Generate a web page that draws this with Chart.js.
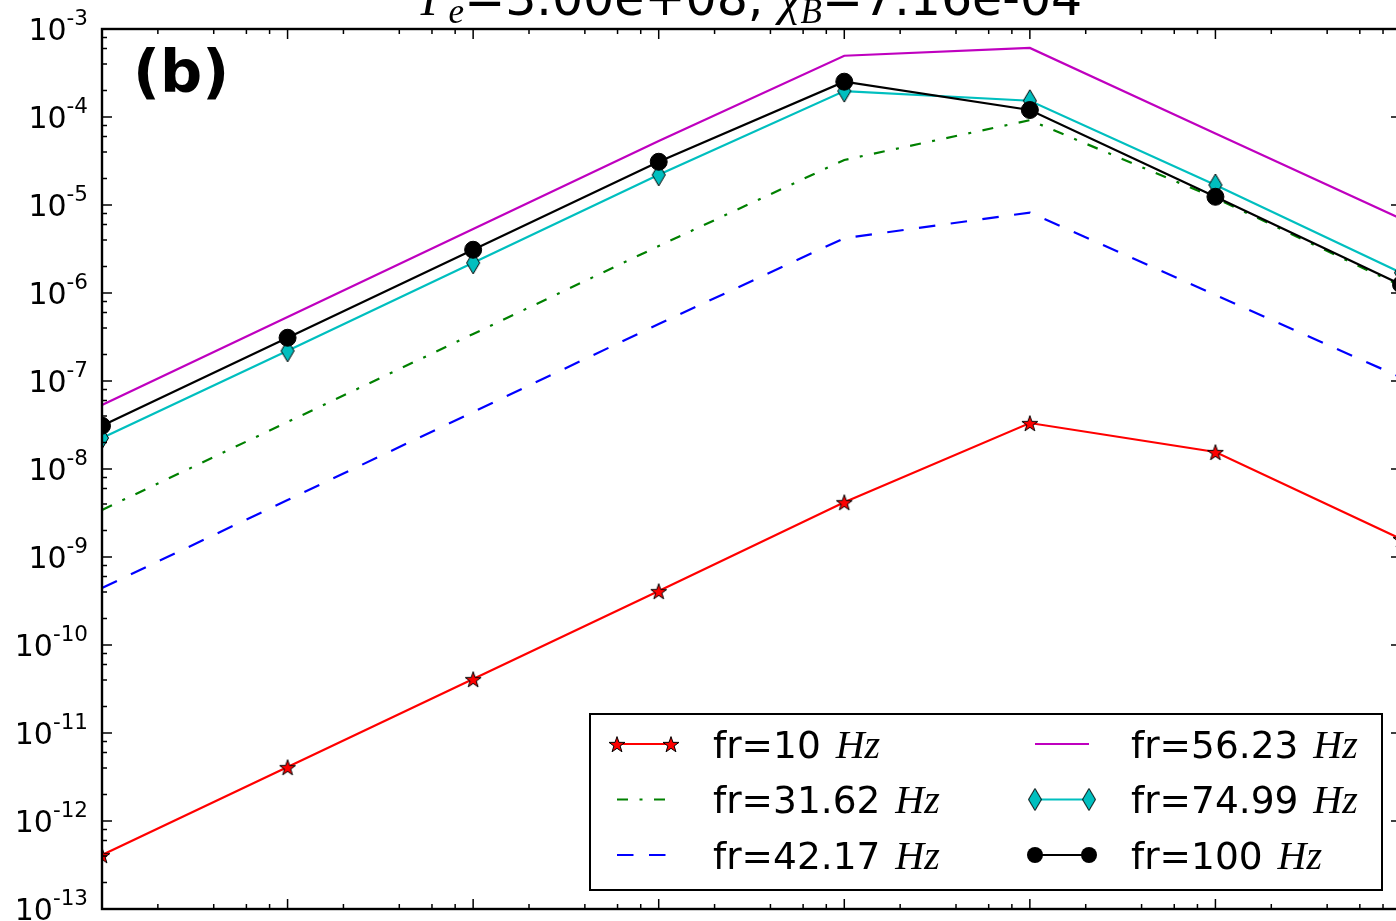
<!DOCTYPE html>
<html>
<head>
<meta charset="utf-8">
<script src="https://cdn.jsdelivr.net/npm/chart.js@4.4.1/dist/chart.umd.min.js"></script>
<style>
  html, body { margin: 0; padding: 0; overflow: hidden; background: #fff; }
  canvas { display: block; }
</style>
</head>
<body>
<canvas id="spec" width="1430" height="960"></canvas>
<script>
// x positions (log axis, one point per decade)
const xValues = [1e0, 1e1, 1e2, 1e3, 1e4, 1e5, 1e6, 1e7];

// series
const fr10  = [4.1e-13, 4.1e-12, 4.1e-11, 4.1e-10, 4.2e-9, 3.33e-8, 1.56e-8, 1.6e-9];
const fr31  = [3.42e-9, 3.42e-8, 3.42e-7, 3.42e-6, 3.25e-5, 9.2e-5, 1.2e-5, 1.2e-6];
const fr42  = [4.44e-10, 4.44e-9, 4.44e-8, 4.44e-7, 4.2e-6, 8.2e-6, 9.5e-7, 1.1e-7];
const fr56  = [5.33e-8, 5.33e-7, 5.33e-6, 5.33e-5, 4.97e-4, 6.1e-4, 6.5e-5, 7.0e-6];
const fr75  = [2.25e-8, 2.2e-7, 2.2e-6, 2.2e-5, 1.97e-4, 1.53e-4, 1.69e-5, 1.7e-6];
const fr100 = [3.1e-8, 3.1e-7, 3.1e-6, 3.1e-5, 2.52e-4, 1.2e-4, 1.24e-5, 1.25e-6];

const seriesNames = ["fr=10", "fr=31.62", "fr=42.17", "fr=56.23", "fr=74.99", "fr=100"];
const yExponents = [-13, -12, -11, -10, -9, -8, -7, -6, -5, -4, -3];
const xExponents = [0, 1, 2, 3, 4, 5, 6, 7];

// matplotlib-like markers
function starMarker() {
  const c = document.createElement("canvas");
  c.width = 20; c.height = 20;
  const g = c.getContext("2d");
  g.beginPath();
  for (let i = 0; i < 10; i++) {
    const r = i % 2 ? 3.3 : 8.4;
    const a = -Math.PI / 2 + i * Math.PI / 5;
    g.lineTo(10 + r * Math.cos(a), 11 + r * Math.sin(a));
  }
  g.closePath();
  g.fillStyle = "#ff0000"; g.fill();
  g.lineWidth = 1; g.strokeStyle = "#000"; g.stroke();
  return c;
}
function thinDiamond() {
  const c = document.createElement("canvas");
  c.width = 18; c.height = 26;
  const g = c.getContext("2d");
  g.beginPath();
  g.moveTo(9, 2); g.lineTo(15.5, 13); g.lineTo(9, 24); g.lineTo(2.5, 13);
  g.closePath();
  g.fillStyle = "#00bfbf"; g.fill();
  g.lineWidth = 1; g.strokeStyle = "#000"; g.stroke();
  return c;
}
const star = starMarker();
const diamond = thinDiamond();

function series(i, values, color, extra) {
  return Object.assign({
    label: seriesNames[i],
    data: xValues.map((x, k) => ({ x: x, y: values[k] })),
    borderColor: color,
    borderWidth: 2.2,
    pointRadius: 0,
    clip: 0,
    order: 6 - i,
  }, extra);
}

const datasets = [
  series(0, fr10, "#ff0000", { pointStyle: star, pointRadius: 8 }),
  series(1, fr31, "#008000", { borderDash: [11, 11.5, 3, 11.5] }),
  series(2, fr42, "#0000ff", { borderDash: [16.5, 15.5] }),
  series(3, fr56, "#bf00bf", {}),
  series(4, fr75, "#00bfbf", { pointStyle: diamond, pointRadius: 8 }),
  series(5, fr100, "#000000", { pointStyle: "circle", pointRadius: 8.5,
    pointBackgroundColor: "#000", pointBorderColor: "#000", pointBorderWidth: 1 }),
];

// inward ticks, full frame and 10^n labels like matplotlib
const frame = {
  id: "frame",
  afterDraw(chart) {
    const { ctx, chartArea: a, scales } = chart;
    ctx.save();
    ctx.strokeStyle = "#000";
    ctx.lineWidth = 1.5;
    ctx.beginPath();
    const subs = [1, 2, 4, 6, 8];
    yExponents.forEach((e) => {
      subs.forEach((s) => {
        const v = s * Math.pow(10, e);
        if (v > 1.0001e-3) return;
        const y = scales.y.getPixelForValue(v);
        const len = s === 1 ? 10 : 5;
        ctx.moveTo(a.left, y); ctx.lineTo(a.left + len, y);
        ctx.moveTo(a.right, y); ctx.lineTo(a.right - len, y);
      });
    });
    xExponents.forEach((e) => {
      subs.forEach((s) => {
        const v = s * Math.pow(10, e);
        if (v > 1.0001e7) return;
        const x = scales.x.getPixelForValue(v);
        const len = s === 1 ? 10 : 5;
        ctx.moveTo(x, a.bottom); ctx.lineTo(x, a.bottom - len);
        ctx.moveTo(x, a.top); ctx.lineTo(x, a.top + len);
      });
    });
    ctx.stroke();
    ctx.lineWidth = 2.4;
    ctx.strokeRect(a.left, a.top, a.right - a.left, a.bottom - a.top);

    // y labels: "10" plus raised exponent
    ctx.fillStyle = "#000";
    ctx.textBaseline = "alphabetic";
    ctx.textAlign = "left";
    scales.y.ticks.forEach((t) => {
      const y = scales.y.getPixelForValue(t.value);
      const ex = String(Math.round(Math.log10(t.value)));
      ctx.font = "21.5px 'DejaVu Sans'";
      const ws = ctx.measureText(ex).width;
      ctx.font = "30px 'DejaVu Sans'";
      const wb = ctx.measureText("10").width;
      const xe = a.left - 14;
      ctx.fillText("10", xe - ws - wb, y + 11);
      ctx.font = "21.5px 'DejaVu Sans'";
      ctx.fillText(ex, xe - ws, y - 4.3);
    });
    ctx.restore();
  },
};

// title with sub-scripts and panel tag
const titleParts = [
  { t: "\u0393", f: "italic 49px 'Liberation Serif'", dy: 0 },
  { t: "e", f: "italic 35px 'Liberation Serif'", dy: 8 },
  { t: "=3.00e+08, ", f: "49px 'DejaVu Sans'", dy: 0 },
  { t: "\u03C7", f: "italic 49px 'Liberation Serif'", dy: 0 },
  { t: "B", f: "italic 35px 'Liberation Serif'", dy: 8 },
  { t: "=7.16e-04", f: "49px 'DejaVu Sans'", dy: 0 },
];
const texts = {
  id: "texts",
  afterDraw(chart) {
    const { ctx, chartArea: a } = chart;
    ctx.save();
    ctx.fillStyle = "#000";
    ctx.textBaseline = "alphabetic";
    let total = 0;
    titleParts.forEach((p) => { ctx.font = p.f; p.w = ctx.measureText(p.t).width; total += p.w; });
    let x = (a.left + a.right) / 2 - total / 2;
    const base = a.top - 14.5;
    titleParts.forEach((p) => { ctx.font = p.f; ctx.fillText(p.t, x, base + p.dy); x += p.w; });
    ctx.font = "bold 59px 'DejaVu Sans'";
    ctx.fillText("(b)", a.left + 31, a.top + 62.5);
    ctx.restore();
  },
};

// boxed legend, two columns, two markers per sample
const boxLegend = {
  id: "boxLegend",
  afterDraw(chart) {
    const { ctx, chartArea: a } = chart;
    const w = 792, h = 176;
    const x0 = a.right - 19 - w, y0 = a.bottom - 19 - h;
    ctx.save();
    ctx.fillStyle = "#fff";
    ctx.fillRect(x0, y0, w, h);
    ctx.lineWidth = 2;
    ctx.strokeStyle = "#000";
    ctx.strokeRect(x0, y0, w, h);
    chart.data.datasets.forEach((ds, i) => {
      const col = Math.floor(i / 3), row = i % 3;
      const sx = x0 + 27 + col * 418;
      const cy = y0 + 30 + row * 55.5;
      ctx.strokeStyle = ds.borderColor;
      ctx.lineWidth = ds.borderWidth;
      ctx.setLineDash(ds.borderDash || []);
      ctx.beginPath();
      ctx.moveTo(sx, cy); ctx.lineTo(sx + 54, cy);
      ctx.stroke();
      ctx.setLineDash([]);
      [sx, sx + 54].forEach((px) => {
        if (ds.pointStyle && typeof ds.pointStyle === "object") {
          ctx.drawImage(ds.pointStyle, px - ds.pointStyle.width / 2, cy - ds.pointStyle.height / 2);
        } else if (ds.pointStyle === "circle") {
          ctx.beginPath();
          ctx.arc(px, cy, 8, 0, Math.PI * 2);
          ctx.fillStyle = "#000";
          ctx.fill();
        }
      });
      ctx.fillStyle = "#000";
      ctx.textBaseline = "alphabetic";
      ctx.font = "37.5px 'DejaVu Sans'";
      const tx = sx + 96;
      ctx.fillText(ds.label, tx, cy + 13.5);
      const tw = ctx.measureText(ds.label + " ").width;
      ctx.font = "italic 40px 'Liberation Serif'";
      ctx.fillText("Hz", tx + tw + 3, cy + 13.5);
    });
    ctx.restore();
  },
};

new Chart(document.getElementById("spec"), {
  type: "line",
  data: { datasets: datasets },
  options: {
    responsive: false,
    animation: false,
    events: [],
    layout: { padding: { top: 29, right: 29, left: 0, bottom: 0 } },
    plugins: { legend: { display: false }, title: { display: false }, tooltip: { enabled: false } },
    scales: {
      x: {
        type: "logarithmic",
        min: 1,
        max: 1e7,
        grid: { display: false, drawTicks: false },
        border: { display: false },
        ticks: { display: false },
        afterFit: (s) => { s.height = 51; },
      },
      y: {
        type: "logarithmic",
        min: 1e-13,
        max: 1e-3,
        grid: { display: false, drawTicks: false },
        border: { display: false },
        afterBuildTicks: (s) => { s.ticks = yExponents.map((e) => ({ value: Math.pow(10, e) })); },
        afterFit: (s) => { s.width = 102; },
        ticks: { display: false },
      },
    },
  },
  plugins: [frame, texts, boxLegend],
});
</script>
</body>
</html>
